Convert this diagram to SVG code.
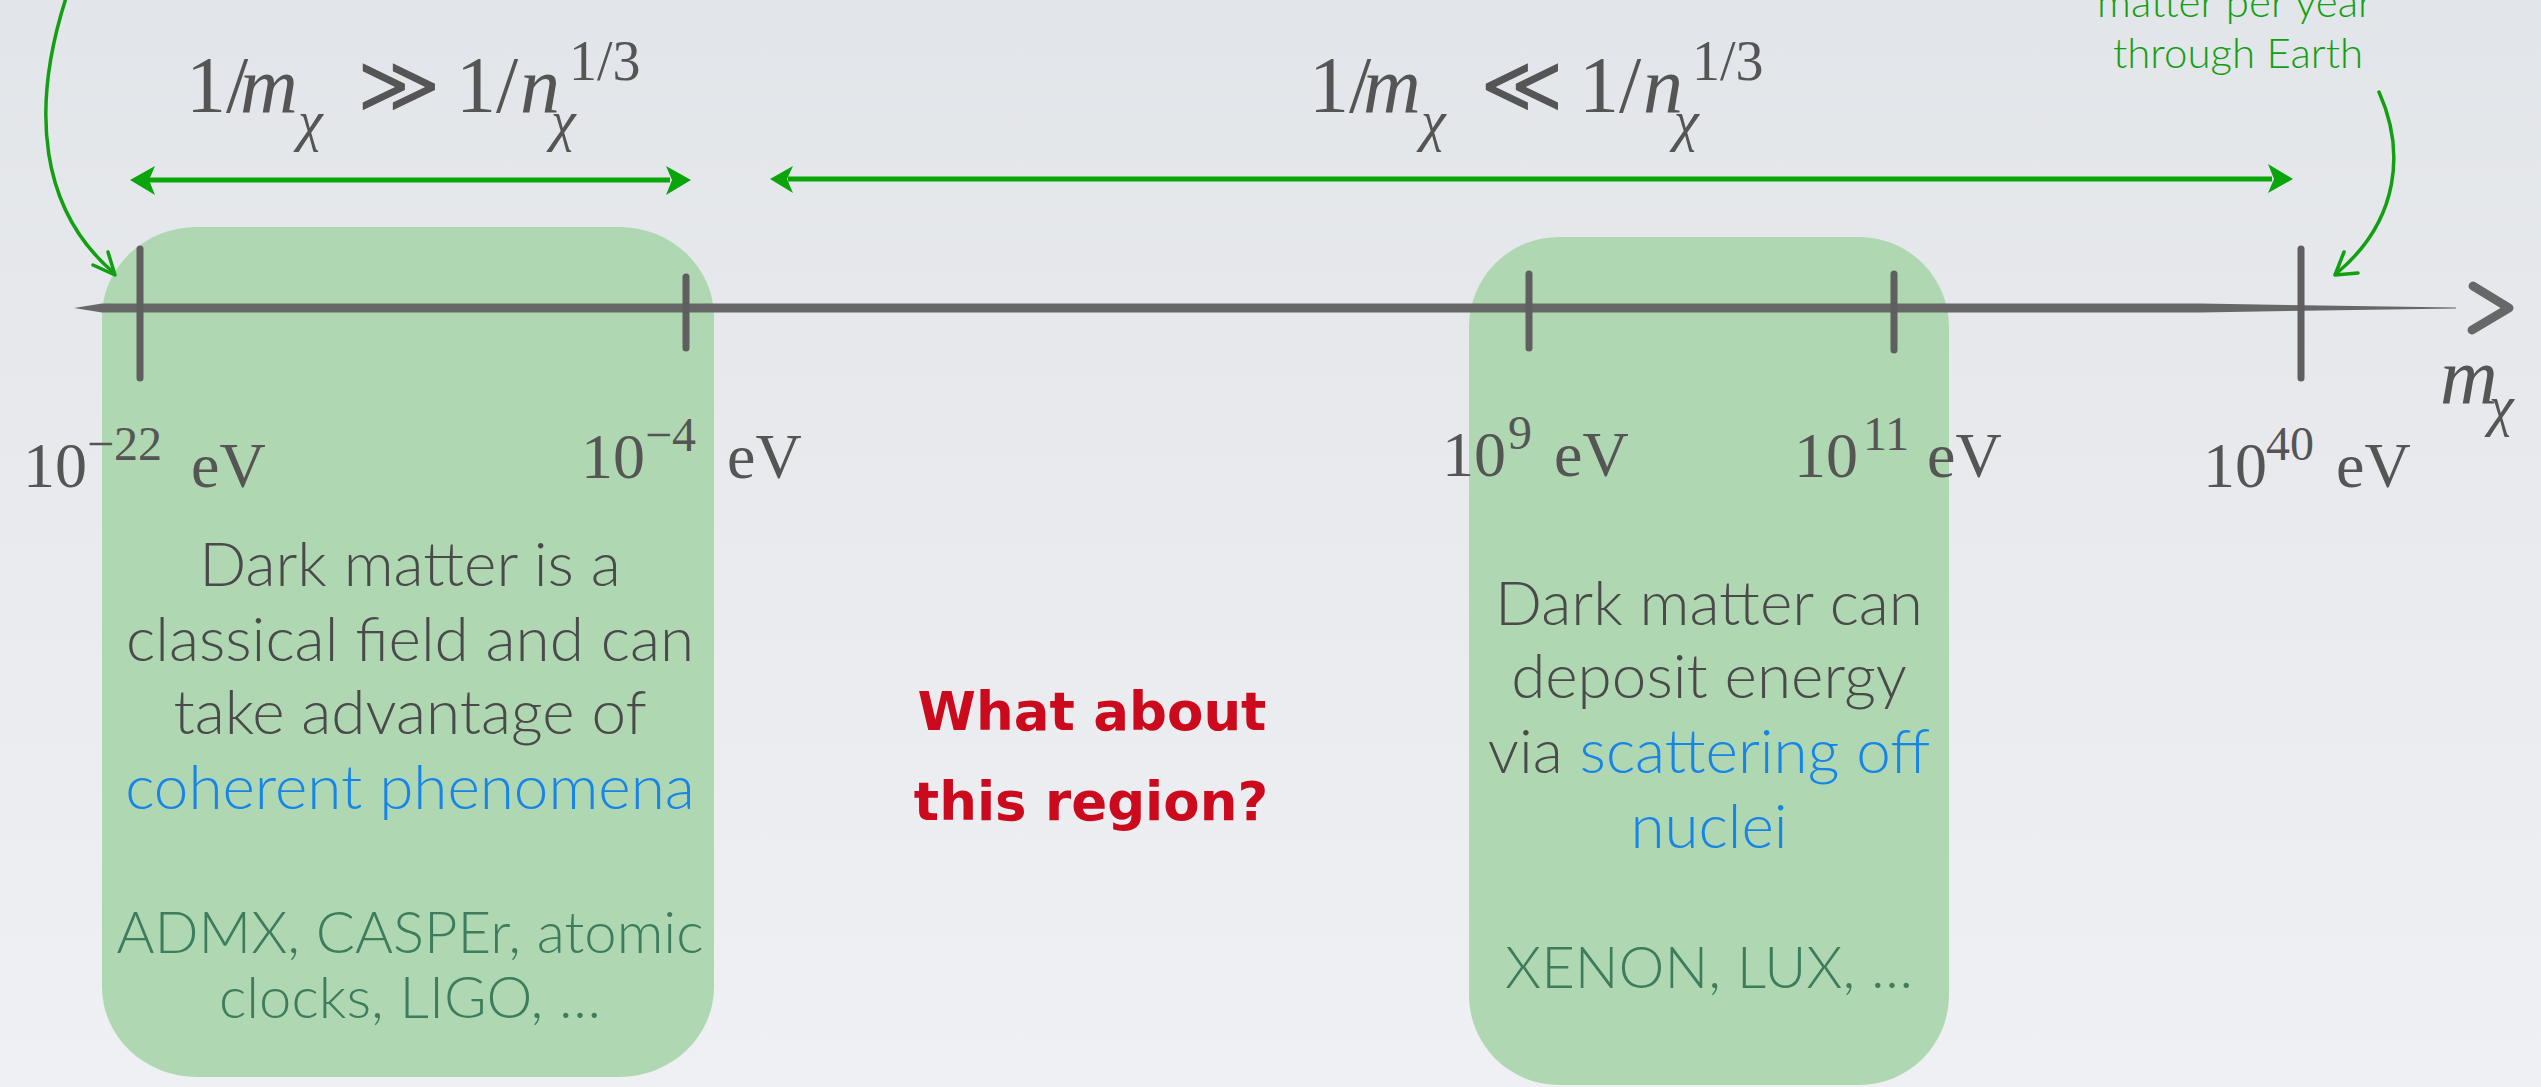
<svg xmlns="http://www.w3.org/2000/svg" width="2541" height="1087" viewBox="0 0 2541 1087">
<defs>
<linearGradient id="bg" x1="0" y1="0" x2="0" y2="1">
<stop offset="0" stop-color="#e2e5e9"/>
<stop offset="1" stop-color="#eff0f3"/>
</linearGradient>
<style>
.box{fill:#afd7b1}
.tick{stroke:#5f5f5f;stroke-width:7;stroke-linecap:round;fill:none}
.math{font-family:"Liberation Serif","DejaVu Serif",serif;fill:#555}
.it{font-style:italic}
.body{font-family:Lato,"Open Sans",sans-serif;font-weight:300;fill:#4a4a4a;text-anchor:middle}
.blue{fill:#1784e8}
.exp{fill:#3d7d5d}
.gtxt{font-family:Lato,"Open Sans",sans-serif;font-weight:300;fill:#12a012;text-anchor:middle;font-size:42px}
.curve{stroke:#12a012;stroke-width:3.5;fill:none;stroke-linecap:round;stroke-linejoin:round}
.dbl{stroke:#0aa50a;stroke-width:5;fill:none}
.head{fill:#0aa50a}
.hand{font-family:"DejaVu Sans",sans-serif;font-weight:bold;fill:#cc0a1e;text-anchor:middle;font-size:53px}
</style>
</defs>
<rect width="2541" height="1087" fill="url(#bg)"/>

<g id="box-light">
<rect class="box" x="102" y="227" width="612" height="850" rx="95" ry="90"/>
<text class="body" font-size="62" x="410" y="586">Dark matter is a</text>
<text class="body" font-size="62" x="410" y="661">classical field and can</text>
<text class="body" font-size="62" x="410" y="734">take advantage of</text>
<text class="body blue" font-size="62" x="410" y="809">coherent phenomena</text>
<text class="body exp" font-size="58" x="410" y="953">ADMX, CASPEr, atomic</text>
<text class="body exp" font-size="58" x="410" y="1018">clocks, LIGO, …</text>
</g>

<g id="box-heavy">
<rect class="box" x="1469" y="237" width="480" height="848" rx="90" ry="90"/>
<text class="body" font-size="62" x="1709" y="625">Dark matter can</text>
<text class="body" font-size="62" x="1709" y="698">deposit energy</text>
<text class="body" font-size="62" x="1709" y="773">via <tspan class="blue">scattering off</tspan></text>
<text class="body blue" font-size="62" x="1709" y="848">nuclei</text>
<text class="body exp" font-size="58" x="1709" y="988">XENON, LUX, …</text>
</g>

<g id="axis">
<path d="M74,308 L102,303.5 L2200,303.5 L2320,305.5 L2456,307.6 L2456,308.4 L2320,310.5 L2200,312.5 L102,312.5 Z" fill="#676767"/>
<path d="M2473,286 L2509,308 L2472,330" stroke="#676767" stroke-width="9" fill="none" stroke-linecap="round" stroke-linejoin="round"/>
<line class="tick" x1="140" y1="249" x2="140" y2="378"/>
<line class="tick" x1="686" y1="277" x2="686" y2="348"/>
<line class="tick" x1="1529" y1="274" x2="1529" y2="348"/>
<line class="tick" x1="1894" y1="274" x2="1894" y2="350"/>
<line class="tick" x1="2301" y1="249" x2="2301" y2="378"/>
<text class="math" font-size="80"><tspan class="it" x="2440" y="403">m</tspan><tspan class="it" font-size="56" x="2489" y="425">χ</tspan></text>
</g>

<g id="labels">
<text class="math" font-size="64"><tspan x="23" y="487">10</tspan><tspan font-size="48" x="87" y="460">−22</tspan><tspan x="191" y="487">eV</tspan></text>
<text class="math" font-size="64"><tspan x="581" y="478">10</tspan><tspan font-size="48" x="645" y="451">−4</tspan><tspan x="727" y="478">eV</tspan></text>
<text class="math" font-size="64"><tspan x="1442" y="476">10</tspan><tspan font-size="48" x="1508" y="449">9</tspan><tspan x="1554" y="476">eV</tspan></text>
<text class="math" font-size="64"><tspan x="1794" y="477">10</tspan><tspan font-size="48" x="1863" y="450">11</tspan><tspan x="1927" y="477">eV</tspan></text>
<text class="math" font-size="64"><tspan x="2203" y="487">10</tspan><tspan font-size="48" x="2266" y="460">40</tspan><tspan x="2336" y="487">eV</tspan></text>
</g>

<g id="formula-wave">
<text class="math" font-size="80"><tspan x="186" y="112">1/</tspan><tspan class="it" x="240" y="112">m</tspan><tspan class="it" font-size="56" x="298" y="140">χ</tspan><tspan x="357" y="112">≫</tspan><tspan x="456" y="112">1/</tspan><tspan class="it" x="520" y="112">n</tspan><tspan class="it" font-size="56" x="551" y="140">χ</tspan><tspan font-size="56" x="569" y="80">1/3</tspan></text>
</g>

<g id="formula-particle">
<text class="math" font-size="80"><tspan x="1309" y="112">1/</tspan><tspan class="it" x="1363" y="112">m</tspan><tspan class="it" font-size="56" x="1421" y="140">χ</tspan><tspan x="1480" y="112">≪</tspan><tspan x="1579" y="112">1/</tspan><tspan class="it" x="1643" y="112">n</tspan><tspan class="it" font-size="56" x="1674" y="140">χ</tspan><tspan font-size="56" x="1692" y="80">1/3</tspan></text>
</g>

<g id="note-earth">
<text class="gtxt" x="2235" y="17">matter per year</text>
<text class="gtxt" x="2238" y="68">through Earth</text>
</g>

<g id="question">
<text class="hand" x="1092" y="730">What about</text>
<text class="hand" x="1091" y="820">this region?</text>
</g>

<g id="connectors">
<path class="curve" d="M66,-2 C30,110 40,210 114,273"/>
<path class="curve" d="M93,265 L115,275 L108,252"/>
<path class="curve" d="M2379,92 C2405,150 2400,220 2337,273"/>
<path class="curve" d="M2344,252 L2335,275 L2358,273"/>
<line class="dbl" x1="148" y1="180" x2="670" y2="180"/>
<path class="head" d="M130,180 L155,166 L149,180 L155,195 Z"/>
<path class="head" d="M691,180 L666,166 L672,180 L666,195 Z"/>
<line class="dbl" x1="788" y1="179" x2="2272" y2="179"/>
<path class="head" d="M770,179 L793,166 L787,179 L793,193 Z"/>
<path class="head" d="M2293,179 L2268,164 L2274,179 L2268,193 Z"/>
</g>
</svg>
